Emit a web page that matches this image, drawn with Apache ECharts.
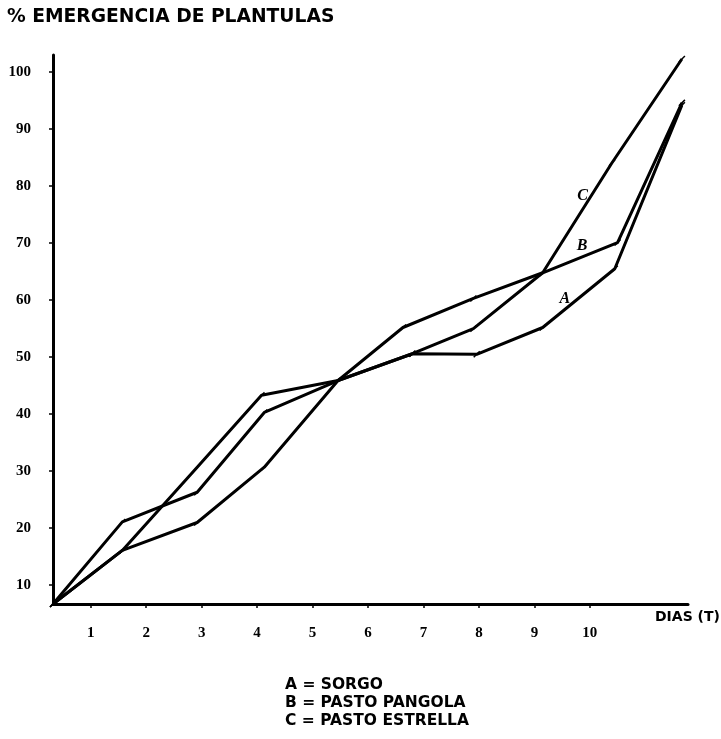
<!DOCTYPE html>
<html>
<head>
<meta charset="utf-8">
<script src="https://cdn.jsdelivr.net/npm/echarts@6/dist/echarts.min.js"></script>
<style>
  html, body { margin: 0; padding: 0; background: #fff; }
  #chart { width: 721px; height: 739px; }
</style>
</head>
<body>
<div id="chart"></div>
<script>
// datos (dia, % emergencia)
var diasTicks = [1, 2, 3, 4, 5, 6, 7, 8, 9, 10];
var porcTicks = [10, 20, 30, 40, 50, 60, 70, 80, 90, 100];

var sorgo = [[0.32, 6.7], [1.57, 21.1], [2.92, 26.3], [4.13, 40.3], [5.46, 45.9],
    [6.8, 50.6], [7.96, 50.5], [9.15, 55.2], [10.45, 65.5], [11.66, 94.2]];
var pangola = [[0.32, 6.7], [1.57, 16.1], [2.92, 21.0], [4.13, 30.7], [5.46, 45.9],
    [6.63, 55.2], [7.9, 60.3], [9.15, 64.8], [10.5, 70.1], [11.66, 94.6]];
var estrella = [[0.32, 6.7], [1.57, 16.1], [2.92, 30.7], [4.08, 43.3], [5.46, 45.9],
    [6.8, 50.6], [7.9, 55.0], [9.15, 64.8], [10.4, 84.1], [11.66, 102.3]];

// letras sobre las curvas
var letraA = [9.55, 60.3];
var letraB = [9.86, 69.5];
var letraC = [9.87, 78.3];

var leyenda = ['A = SORGO', 'B = PASTO PANGOLA', 'C = PASTO ESTRELLA'];

var fuente = '"DejaVu Sans", sans-serif';
var fuenteNum = '"Liberation Serif", serif';

function serie(nombre, datos, letra, txt) {
    return {
        name: nombre,
        type: 'line',
        data: datos,
        symbol: 'path://M0,10L10,0',
        symbolSize: 6,
        showSymbol: true,
        itemStyle: { color: '#000', borderColor: '#000', borderWidth: 1.5 },
        lineStyle: { color: '#000', width: 3 },
        animation: false,
        markPoint: {
            symbol: 'circle',
            symbolSize: 1,
            itemStyle: { color: 'rgba(0,0,0,0)' },
            label: {
                show: true,
                formatter: txt,
                color: '#000',
                fontFamily: fuenteNum,
                fontWeight: 'bold',
                fontStyle: 'italic',
                fontSize: 16
            },
            data: [{ coord: letra }]
        }
    };
}

var myChart = echarts.init(document.getElementById('chart'), null, { renderer: 'canvas' });

var option = {
    backgroundColor: '#fff',
    animation: false,
    grid: { left: 53, right: 33, top: 55, bottom: 135, containLabel: false },
    xAxis: {
        type: 'value',
        min: 0.32,
        max: 11.77,
        axisLine: { show: true, onZero: false, lineStyle: { color: '#000', width: 3 } },
        axisTick: { show: true, customValues: diasTicks, length: 4, lineStyle: { color: '#000', width: 1.5 } },
        axisLabel: {
            customValues: diasTicks,
            color: '#000',
            fontFamily: fuenteNum,
            fontWeight: 'bold',
            fontSize: 15,
            margin: 22
        },
        splitLine: { show: false }
    },
    yAxis: {
        type: 'value',
        min: 6.7,
        max: 103,
        axisLine: { show: true, onZero: false, lineStyle: { color: '#000', width: 3 } },
        axisTick: { show: true, customValues: porcTicks, length: 4, lineStyle: { color: '#000', width: 1.5 } },
        axisLabel: {
            customValues: porcTicks,
            color: '#000',
            fontFamily: fuenteNum,
            fontWeight: 'bold',
            fontSize: 15,
            margin: 22
        },
        splitLine: { show: false }
    },
    series: [
        serie('SORGO', sorgo, letraA, 'A'),
        serie('PASTO PANGOLA', pangola, letraB, 'B'),
        serie('PASTO ESTRELLA', estrella, letraC, 'C')
    ],
    graphic: [
        {
            type: 'text', left: 7, top: 8,
            style: { text: '% EMERGENCIA DE PLANTULAS', fill: '#000', font: 'bold 18.7px ' + fuente }
        },
        {
            type: 'text', left: 655, top: 610,
            style: { text: 'DIAS (T)', fill: '#000', font: 'bold 14px ' + fuente }
        },
        {
            type: 'text', left: 285, top: 677,
            style: { text: leyenda[0], fill: '#000', font: 'bold 15.5px ' + fuente }
        },
        {
            type: 'text', left: 285, top: 695,
            style: { text: leyenda[1], fill: '#000', font: 'bold 15.5px ' + fuente }
        },
        {
            type: 'text', left: 285, top: 713,
            style: { text: leyenda[2], fill: '#000', font: 'bold 15.5px ' + fuente }
        }
    ]
};

myChart.setOption(option);
</script>
</body>
</html>
